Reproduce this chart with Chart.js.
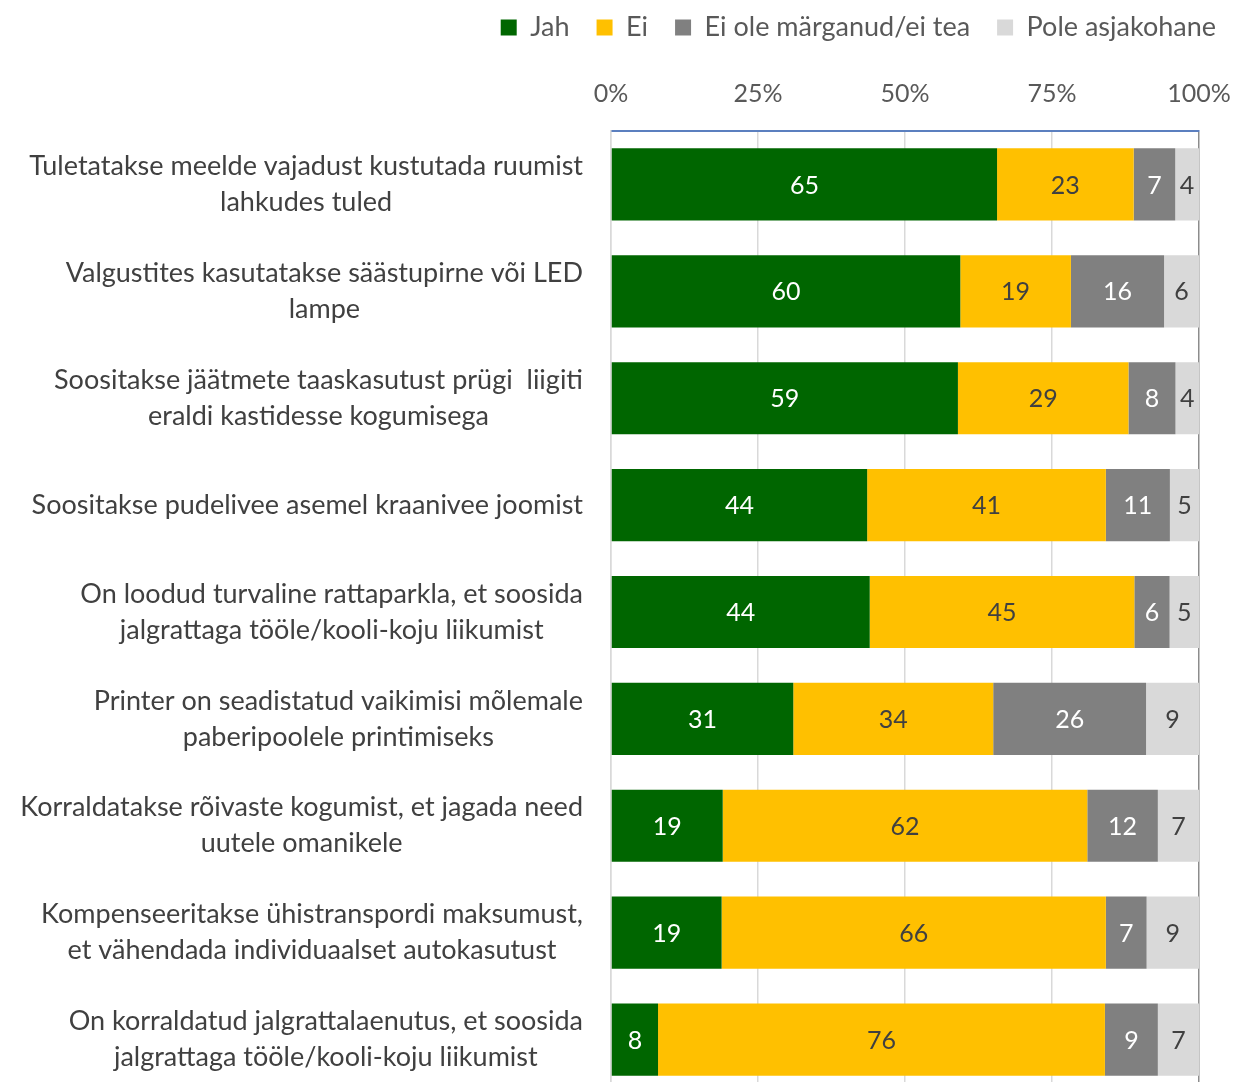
<!DOCTYPE html>
<html>
<head>
<meta charset="utf-8">
<script src="https://cdn.jsdelivr.net/npm/chart.js@4"></script>
<style>
  html, body { margin: 0; padding: 0; background: #fff; overflow: hidden; }
  #wrap { width: 1243px; height: 1093px; position: relative; }
</style>
</head>
<body>
<div id="wrap"><canvas id="chart"></canvas></div>
<script>
// Kategooriad (read, kaherealised sildid)
const categories = [
  ['Tuletatakse meelde vajadust kustutada ruumist', 'lahkudes tuled'],
  ['Valgustites kasutatakse säästupirne või LED', 'lampe'],
  ['Soositakse jäätmete taaskasutust prügi  liigiti', 'eraldi kastidesse kogumisega'],
  ['Soositakse pudelivee asemel kraanivee joomist'],
  ['On loodud turvaline rattaparkla, et soosida', 'jalgrattaga tööle/kooli-koju liikumist'],
  ['Printer on seadistatud vaikimisi mõlemale', 'paberipoolele printimiseks'],
  ['Korraldatakse rõivaste kogumist, et jagada need', 'uutele omanikele'],
  ['Kompenseeritakse ühistranspordi maksumust,', 'et vähendada individuaalset autokasutust'],
  ['On korraldatud jalgrattalaenutus, et soosida', 'jalgrattaga tööle/kooli-koju liikumist']
];

const seriesNames = ['Jah', 'Ei', 'Ei ole märganud/ei tea', 'Pole asjakohane'];
const jah    = [65, 60, 59, 44, 44, 31, 19, 19, 8];
const ei     = [23, 19, 29, 41, 45, 34, 62, 66, 76];
const eiTea  = [7, 16, 8, 11, 6, 26, 12, 7, 9];
const pole   = [4, 6, 4, 5, 5, 9, 7, 9, 7];
const xTicks = [0, 25, 50, 75, 100];

const colors = ['#006600', '#FFC000', '#808080', '#D9D9D9'];
const labelColors = ['#ffffff', '#404040', '#ffffff', '#404040'];

const FONT = 'Lato, Carlito, "Open Sans", sans-serif';
Chart.defaults.font.family = FONT;
Chart.defaults.color = '#595959';

// Protsendid ridade kaupa (100% virna jaoks)
const raw = [jah, ei, eiTea, pole];
const totals = categories.map((_, i) => raw.reduce((s, arr) => s + arr[i], 0));
const shares = raw.map(arr => arr.map((v, i) => v / totals[i] * 100));

const datasets = raw.map((arr, k) => ({
  label: seriesNames[k],
  data: shares[k],
  rawValues: arr,
  backgroundColor: colors[k],
  borderWidth: 0,
  categoryPercentage: 1,
  barPercentage: 0.675
}));

// Väärtuste sildid tulpade keskel
const valueLabels = {
  id: 'valueLabels',
  afterDatasetsDraw(chart) {
    const ctx = chart.ctx;
    ctx.save();
    ctx.font = '25px ' + FONT;
    ctx.textAlign = 'center';
    ctx.textBaseline = 'middle';
    chart.data.datasets.forEach((ds, k) => {
      const meta = chart.getDatasetMeta(k);
      meta.data.forEach((bar, i) => {
        const cx = (bar.x + bar.base) / 2;
        ctx.fillStyle = labelColors[k];
        ctx.fillText(String(ds.rawValues[i]), cx, bar.y + 1);
      });
    });
    ctx.restore();
  }
};

// Kategooriate sildid: plokk paremale joondatud, read keskel
const categoryLabels = {
  id: 'categoryLabels',
  afterDraw(chart) {
    const ctx = chart.ctx;
    const yScale = chart.scales.y;
    const right = chart.chartArea.left - 28;
    const lineH = 36;
    ctx.save();
    ctx.font = '27px ' + FONT;
    ctx.fillStyle = '#404040';
    ctx.textAlign = 'center';
    ctx.textBaseline = 'middle';
    categories.forEach((lines, i) => {
      const y = yScale.getPixelForTick(i);
      const w = Math.max(...lines.map(l => ctx.measureText(l).width));
      const cx = right - w / 2;
      const y0 = y - (lines.length - 1) * lineH / 2;
      lines.forEach((l, j) => ctx.fillText(l, cx, y0 + j * lineH));
    });
    ctx.restore();
  }
};

new Chart(document.getElementById('chart'), {
  type: 'bar',
  data: { labels: categories.map(l => l.join(' ')), datasets },
  plugins: [valueLabels, categoryLabels],
  options: {
    indexAxis: 'y',
    responsive: true,
    maintainAspectRatio: false,
    animation: false,
    layout: { padding: { left: 0, right: 0, top: -13, bottom: 0 } },
    plugins: {
      legend: {
        position: 'top',
        align: 'end',
        labels: {
          boxWidth: 16,
          boxHeight: 16,
          padding: 27,
          color: '#595959',
          font: { size: 27, family: FONT }
        }
      },
      tooltip: { enabled: false }
    },
    scales: {
      x: {
        position: 'top',
        stacked: true,
        min: 0,
        max: 100,
        afterBuildTicks(scale) { scale.ticks = xTicks.map(v => ({ value: v })); },
        afterFit(scale) {
          scale.height += 6;
          scale.paddingLeft = 0;
          scale.paddingRight = 44;
        },
        ticks: {
          padding: 22,
          color: '#595959',
          font: { size: 25, family: FONT },
          callback: v => v + '%'
        },
        grid: {
          drawTicks: false,
          color: ctx => (ctx.tick && ctx.tick.value === 100) ? '#8c8c8c' : '#d9d9d9',
          lineWidth: 1.5
        },
        border: { display: true, color: '#5b7fbf', width: 2 }
      },
      y: {
        stacked: true,
        afterFit(scale) { scale.width = 611; },
        ticks: { display: false },
        grid: { display: false },
        border: { display: true, color: '#d9d9d9', width: 1.5 }
      }
    }
  }
});
</script>
</body>
</html>
